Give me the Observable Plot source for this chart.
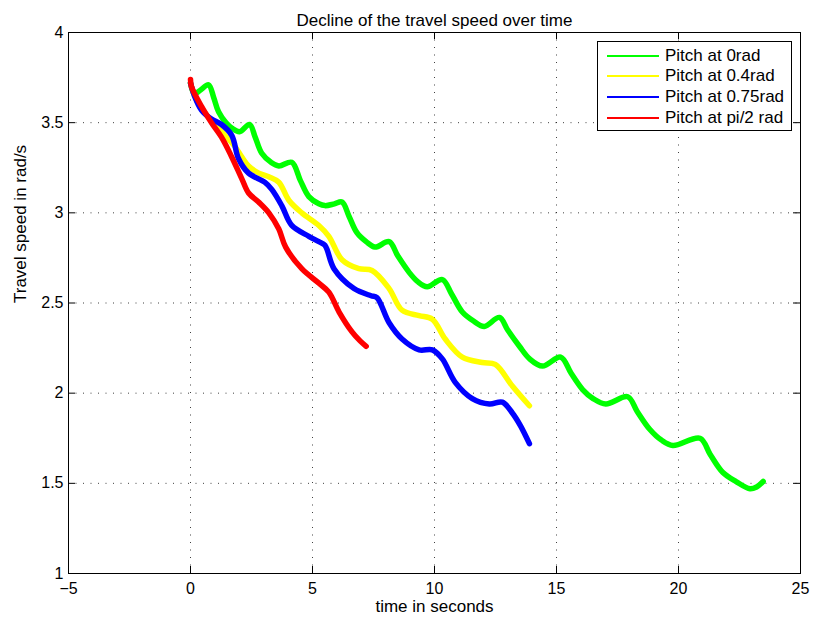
<!DOCTYPE html>
<html>
<head>
<meta charset="utf-8">
<script src="https://cdn.jsdelivr.net/npm/d3@7"></script>
<script src="https://cdn.jsdelivr.net/npm/@observablehq/plot@0.6"></script>
<style>
  body { margin: 0; background: white; }
  #wrap { position: relative; width: 813px; height: 621px; font-family: "Liberation Sans", Arial, Helvetica, sans-serif; }
  #legend { position: absolute; left: 597px; top: 41px; width: 193px; height: 88px; border: 1px solid #000; background: #fff; }
  .entry { position: absolute; left: 0; height: 20px; display: flex; align-items: center; font-size: 17px; color: #000; white-space: nowrap; }
  .entry svg { margin-left: 9px; margin-right: 6px; }
</style>
</head>
<body>
<div id="wrap"><div id="chart"></div><div id="legend"></div></div>
<script>
const title = "Decline of the travel speed over time";
const xLabel = "time in seconds";
const yLabel = "Travel speed in rad/s";
const xTicks = [-5, 0, 5, 10, 15, 20, 25];
const yTicks = [1, 1.5, 2, 2.5, 3, 3.5, 4];
const seriesNames = ["Pitch at 0rad", "Pitch at 0.4rad", "Pitch at 0.75rad", "Pitch at pi/2 rad"];
const seriesColors = ["#00ff00", "#ffff00", "#0000ff", "#ff0000"];

const greenT = [0, 0.16, 0.4, 0.74, 0.95, 1.15, 1.45, 1.69, 2.01, 2.42, 2.65, 2.92, 3.3, 3.62, 4.15, 4.5, 4.85, 5.26, 5.51, 5.9, 6.21, 6.5, 6.82, 7.2, 7.56, 8.14, 8.5, 8.96, 9.3, 9.7, 10.32, 10.7, 11.14, 11.6, 12.04, 12.66, 13.0, 13.48, 13.9, 14.43, 15.17, 15.6, 16.07, 16.5, 17.02, 17.92, 18.3, 18.82, 19.3, 19.77, 20.88, 21.3, 21.82, 22.36, 22.93, 23.2, 23.47];
const greenV = [3.72, 3.66, 3.68, 3.71, 3.64, 3.56, 3.5, 3.47, 3.45, 3.49, 3.42, 3.33, 3.28, 3.26, 3.28, 3.18, 3.09, 3.05, 3.04, 3.05, 3.06, 2.98, 2.89, 2.84, 2.81, 2.84, 2.76, 2.67, 2.62, 2.59, 2.63, 2.55, 2.45, 2.4, 2.37, 2.42, 2.35, 2.26, 2.19, 2.15, 2.2, 2.11, 2.02, 1.97, 1.94, 1.98, 1.9, 1.8, 1.74, 1.71, 1.75, 1.66, 1.56, 1.51, 1.47, 1.48, 1.51];

const yellowT = [0, 0.16, 0.45, 0.86, 1.27, 1.81, 2.1, 2.38, 2.8, 3.21, 3.62, 4.03, 4.56, 5.26, 5.67, 6.21, 6.9, 7.44, 8.14, 8.67, 9.37, 9.91, 10.44, 11.14, 11.96, 12.49, 13.19, 13.89];
const yellowV = [3.72, 3.65, 3.58, 3.51, 3.45, 3.37, 3.31, 3.26, 3.22, 3.2, 3.17, 3.07, 3.0, 2.93, 2.87, 2.74, 2.69, 2.68, 2.58, 2.46, 2.43, 2.41, 2.3, 2.2, 2.17, 2.16, 2.04, 1.93];

const blueT = [0, 0.16, 0.45, 0.86, 1.27, 1.69, 1.97, 2.38, 3.04, 3.33, 3.74, 4.15, 4.85, 5.26, 5.51, 5.88, 6.7, 7.4, 7.64, 8.14, 8.67, 9.37, 9.91, 10.32, 10.85, 11.55, 12.25, 12.78, 13.19, 13.52, 13.89];
const blueV = [3.72, 3.65, 3.57, 3.52, 3.49, 3.43, 3.3, 3.22, 3.17, 3.13, 3.04, 2.93, 2.87, 2.84, 2.82, 2.69, 2.58, 2.54, 2.53, 2.39, 2.3, 2.24, 2.24, 2.19, 2.06, 1.97, 1.94, 1.95, 1.89, 1.82, 1.72];

const redT = [0, 0.04, 0.45, 0.86, 1.27, 1.69, 2.1, 2.38, 2.79, 3.21, 3.62, 3.9, 4.56, 5.26, 5.67, 6.09, 6.62, 6.95, 7.2];
const redV = [3.74, 3.7, 3.59, 3.5, 3.42, 3.31, 3.19, 3.11, 3.06, 3.0, 2.91, 2.81, 2.69, 2.61, 2.56, 2.45, 2.34, 2.29, 2.26];

const toRows = (T, V) => T.map((t, i) => ({t, v: V[i]}));
const series = [toRows(greenT, greenV), toRows(yellowT, yellowV), toRows(blueT, blueV), toRows(redT, redV)];

const W = 813, H = 621, mt = 32, mb = 48, ml = 68, mr = 13;
const fw = W - ml - mr, fh = H - mt - mb, tk = 7;
const font = "Liberation Sans, Arial, Helvetica, sans-serif";

const chart = Plot.plot({
  width: W, height: H,
  marginTop: mt, marginBottom: mb, marginLeft: ml, marginRight: mr,
  style: {fontFamily: font, fontSize: "16px", background: "white", color: "black"},
  x: {domain: [-5, 25]},
  y: {domain: [1, 4]},
  marks: [
    Plot.gridX(xTicks, {stroke: "#000", strokeOpacity: 0.75, strokeDasharray: "1,6.5"}),
    Plot.gridY(yTicks, {stroke: "#000", strokeOpacity: 0.75, strokeDasharray: "1,6.5"}),
    ...series.map((d, i) => Plot.line(d, {x: "t", y: "v", stroke: seriesColors[i], strokeWidth: 5.5, strokeLinejoin: "round", strokeLinecap: "round", curve: "catmull-rom"})),
    Plot.tickX(xTicks, {x: d => d, insetTop: fh - tk, stroke: "#000"}),
    Plot.tickX(xTicks, {x: d => d, insetBottom: fh - tk, stroke: "#000"}),
    Plot.tickY(yTicks, {y: d => d, insetRight: fw - tk, stroke: "#000"}),
    Plot.tickY(yTicks, {y: d => d, insetLeft: fw - tk, stroke: "#000"}),
    Plot.frame({stroke: "#000"}),
    Plot.axisX(xTicks, {tickSize: 0, tickPadding: 9, label: null, fontSize: 16, tickFormat: d => d < 0 ? "\u2212" + Math.abs(d) : String(d)}),
    Plot.axisY(yTicks, {tickSize: 0, tickPadding: 5, label: null, fontSize: 16, tickFormat: d => String(d)}),
    Plot.text([title], {frameAnchor: "top", dy: -19, text: d => d, fontSize: 17}),
    Plot.text([xLabel], {frameAnchor: "bottom", dy: 38.5, text: d => d, fontSize: 17}),
    Plot.text([yLabel], {frameAnchor: "left", dx: -48, rotate: -90, text: d => d, fontSize: 17})
  ]
});
document.getElementById("chart").appendChild(chart);

const legend = document.getElementById("legend");
seriesNames.forEach((name, i) => {
  const e = document.createElement("div");
  e.className = "entry";
  e.style.top = (3.5 + i * 20.7) + "px";
  e.innerHTML = `<svg width="52" height="4"><line x1="0" y1="2" x2="52" y2="2" stroke="${seriesColors[i]}" stroke-width="2"/></svg><span>${name}</span>`;
  legend.appendChild(e);
});
</script>
</body>
</html>
